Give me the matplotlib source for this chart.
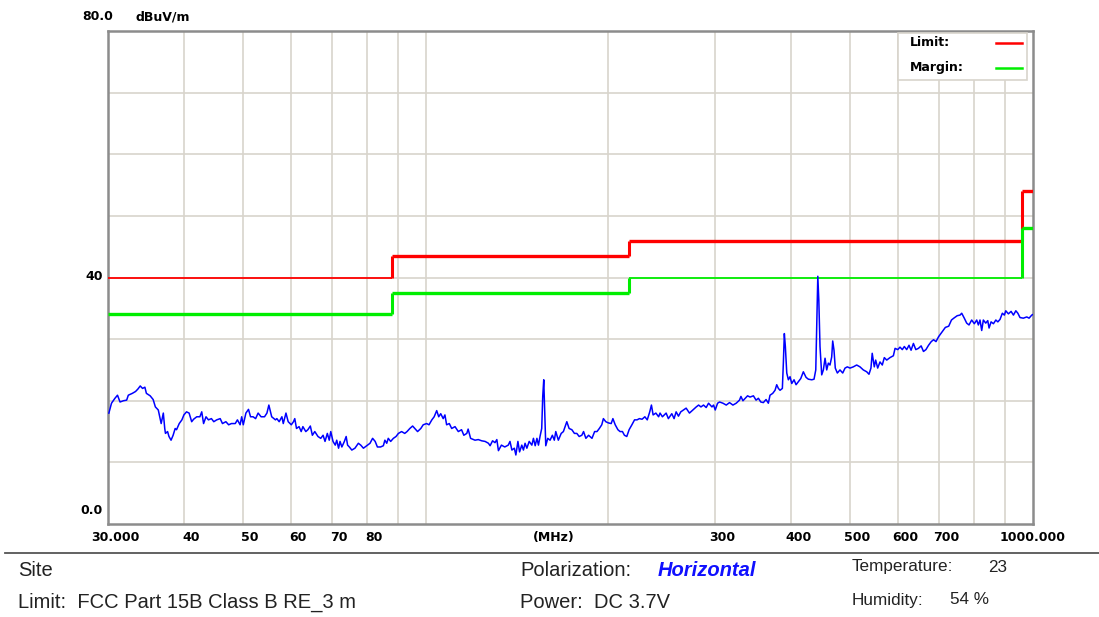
import matplotlib
matplotlib.use("Agg")
import matplotlib.pyplot as plt
from matplotlib.transforms import ScaledTranslation
import numpy as np

# Measured field strength sweep (MHz, dBuV/m)
freq_mhz = [
    30.1, 30.4, 30.8, 31.1, 31.4, 31.8, 32.2, 32.4, 32.9, 33.3, 33.6, 33.9, 34.2, 34.5, 34.7,
    35.2, 35.6, 35.9, 36.3, 36.5, 36.7, 37.0, 37.2, 37.3, 37.6, 37.8, 38.1, 38.4, 38.7, 38.9,
    39.3, 39.7, 40.0, 40.4, 40.8, 41.2, 41.5, 42.0, 42.5, 42.8, 43.1, 43.5, 43.9, 44.4, 44.8,
    45.3, 45.9, 46.3, 46.9, 47.4, 47.9, 48.6, 49.0, 49.5, 49.8, 50.1, 50.6, 51.1, 51.5, 52.0,
    52.5, 53.0, 53.6, 54.3, 54.8, 55.2, 55.8, 56.6, 56.9, 57.4, 58.0, 58.3, 58.9, 59.4, 60.1,
    60.6, 60.9, 61.3, 61.9, 62.4, 62.8, 63.5, 64.0, 64.6, 65.1, 65.7, 66.5, 67.2, 67.8, 68.3,
    68.9, 69.4, 69.8, 70.4, 71.0, 71.4, 71.9, 72.3, 72.8, 73.5, 74.0, 74.4, 74.9, 75.6, 76.5,
    77.5, 78.2, 79.0, 80.0, 81.0, 81.8, 82.6, 83.3, 84.3, 85.2, 85.7, 86.3, 86.8, 87.6, 88.5,
    89.4, 90.2, 91.3, 92.4, 93.2, 94.2, 95.2, 96.0, 97.0, 98.2, 99.1, 100.4, 101.3, 102.4, 103.3,
    104.3, 105.1, 105.9, 106.9, 107.6, 108.3, 109.4, 110.4, 111.8, 113.2, 114.6, 115.6, 116.9, 117.5, 118.6,
    120.6, 122.1, 123.7, 125.3, 126.9, 127.7, 128.9, 130.1, 131.0, 131.8, 133.3, 135.0, 136.8, 137.7, 138.7,
    140.0, 140.8, 141.9, 142.8, 144.0, 144.9, 145.8, 146.8, 148.1, 149.6, 150.5, 151.5, 152.5, 153.4, 154.3,
    155.3, 155.9, 156.5, 157.1, 157.7, 158.9, 160.3, 161.7, 162.9, 163.8, 165.4, 167.2, 168.6, 169.7, 170.8,
    172.3, 174.1, 175.8, 177.4, 179.0, 180.8, 182.0, 183.6, 185.5, 187.9, 189.8, 191.5, 193.2, 195.0, 196.2,
    198.0, 200.0, 202.1, 203.4, 205.2, 207.3, 209.0, 210.9, 212.5, 214.4, 216.3, 218.6, 220.8, 222.9, 224.9,
    227.2, 229.6, 231.7, 233.9, 235.4, 236.9, 239.4, 241.9, 243.2, 245.4, 248.9, 251.0, 254.3, 256.5, 258.5,
    260.8, 263.1, 265.8, 268.5, 271.9, 275.4, 279.0, 281.5, 284.0, 286.8, 289.7, 292.3, 296.1, 297.9, 299.8,
    302.5, 304.8, 308.7, 312.6, 316.5, 320.6, 324.6, 328.7, 330.5, 333.0, 335.9, 338.9, 342.1, 346.5, 350.0,
    353.1, 356.3, 359.8, 363.5, 366.7, 369.0, 372.8, 376.1, 378.5, 380.9, 383.3, 386.7, 388.2, 389.6, 391.1,
    393.2, 395.6, 398.1, 400.7, 404.2, 407.3, 410.9, 414.6, 418.7, 423.0, 426.7, 432.3, 436.0, 438.9, 440.6,
    442.3, 444.0, 446.0, 448.9, 451.7, 454.6, 457.5, 460.3, 463.2, 466.2, 468.0, 470.3, 472.6, 476.3, 481.1,
    486.1, 490.4, 494.7, 499.7, 506.0, 512.5, 519.0, 525.6, 532.4, 537.0, 541.0, 543.6, 547.9, 550.8, 555.0,
    559.9, 564.8, 569.1, 574.4, 581.5, 589.0, 592.8, 598.9, 604.0, 609.3, 614.0, 619.5, 625.0, 629.9, 635.5,
    641.3, 647.7, 654.4, 660.2, 666.4, 673.0, 680.0, 686.0, 692.3, 699.2, 706.5, 712.7, 717.3, 726.5, 734.1,
    740.6, 750.3, 758.3, 763.2, 770.7, 777.7, 784.6, 792.6, 800.6, 807.9, 812.9, 818.0, 823.3, 828.4, 836.0,
    842.4, 846.6, 853.1, 860.7, 868.6, 875.2, 882.5, 890.3, 897.2, 901.9, 910.9, 920.3, 928.5, 937.0, 944.2,
    952.0, 964.0, 976.6, 985.2, 995.3, 1000.0,
]
level_dbuv = [
    18.0, 19.6, 20.4, 20.9, 19.8, 20.0, 20.1, 20.9, 21.2, 21.5, 21.9, 22.4, 22.0, 22.2, 21.2,
    20.8, 20.2, 19.0, 18.5, 17.4, 16.3, 18.0, 15.5, 14.7, 15.0, 14.2, 13.6, 14.4, 15.5, 15.3,
    16.3, 16.9, 17.7, 18.2, 18.0, 16.6, 17.0, 17.4, 17.4, 18.2, 16.3, 17.4, 16.9, 17.1, 16.6,
    16.9, 17.1, 16.3, 16.6, 16.1, 16.3, 16.3, 16.9, 16.1, 17.4, 16.1, 18.0, 18.6, 17.4, 17.4,
    17.1, 18.0, 17.4, 17.4, 18.0, 19.3, 17.4, 16.9, 17.1, 16.6, 17.4, 16.3, 18.0, 16.6, 16.1,
    16.6, 17.1, 15.5, 15.8, 15.0, 15.8, 15.0, 15.3, 15.9, 14.4, 15.0, 14.2, 13.9, 14.4, 13.4,
    14.7, 13.6, 15.0, 13.4, 12.8, 13.6, 12.3, 13.4, 12.5, 13.4, 14.2, 12.8, 12.5, 12.0, 12.3,
    13.1, 12.8, 12.3, 12.7, 13.1, 13.9, 13.4, 12.5, 12.5, 12.7, 13.6, 13.1, 13.9, 13.4, 13.9,
    14.2, 14.7, 15.0, 14.7, 15.0, 15.5, 15.9, 15.5, 15.0, 15.5, 16.1, 16.3, 16.1, 16.9, 17.4,
    18.4, 17.4, 17.9, 17.1, 17.7, 16.1, 16.3, 15.5, 15.8, 15.0, 15.3, 14.4, 14.7, 15.4, 13.9,
    13.6, 13.7, 13.5, 13.4, 13.1, 12.7, 13.5, 13.2, 13.7, 11.9, 12.8, 12.5, 12.8, 13.4, 12.0,
    12.3, 11.2, 13.4, 11.7, 12.8, 12.0, 13.1, 12.3, 13.4, 12.8, 13.9, 12.7, 13.9, 12.8, 14.2,
    15.5, 20.7, 23.4, 18.0, 12.7, 13.9, 13.6, 14.4, 13.6, 15.0, 13.6, 14.7, 15.0, 15.8, 16.6,
    15.5, 15.3, 14.7, 14.7, 14.2, 14.4, 15.0, 13.9, 14.4, 13.9, 15.0, 15.0, 15.5, 16.1, 17.1,
    16.6, 16.4, 16.3, 17.1, 16.1, 15.3, 15.0, 15.0, 14.4, 14.2, 15.3, 16.1, 16.9, 16.9, 17.1,
    17.0, 17.4, 16.9, 18.2, 19.3, 17.7, 18.0, 17.4, 18.0, 17.4, 18.0, 17.1, 17.9, 17.1, 18.2,
    17.5, 18.2, 18.5, 18.8, 18.0, 18.5, 19.0, 19.3, 19.0, 19.3, 18.9, 19.6, 19.0, 19.3, 18.5,
    19.6, 19.8, 19.6, 19.3, 19.7, 19.3, 19.6, 20.1, 20.7, 20.0, 20.4, 20.8, 20.6, 20.8, 20.1,
    20.4, 19.8, 19.7, 20.2, 19.6, 20.9, 21.2, 21.7, 22.6, 22.0, 21.7, 22.0, 26.3, 30.9, 28.8,
    24.5, 23.4, 23.9, 22.8, 23.4, 22.6, 23.1, 23.6, 24.7, 23.8, 23.5, 23.4, 23.5, 25.0, 32.8,
    40.2, 36.3, 28.8, 24.2, 25.0, 26.9, 25.0, 26.1, 25.8, 27.1, 29.7, 28.2, 25.3, 24.5, 25.0,
    24.5, 25.3, 25.5, 25.3, 25.5, 25.8, 25.5, 25.0, 24.7, 24.3, 25.3, 27.7, 25.5, 26.6, 25.3,
    26.3, 25.8, 27.0, 26.6, 27.0, 27.3, 28.5, 28.3, 28.7, 28.3, 28.8, 28.3, 29.0, 28.2, 29.3,
    28.3, 28.5, 28.9, 28.0, 28.3, 29.0, 29.6, 29.9, 29.6, 30.4, 31.0, 31.5, 31.9, 32.1, 33.1,
    33.4, 33.8, 33.9, 34.2, 33.4, 32.6, 32.3, 33.1, 32.5, 33.1, 32.3, 33.1, 31.4, 33.1, 32.6,
    33.0, 31.8, 32.8, 32.5, 33.1, 32.8, 33.2, 34.2, 33.9, 34.6, 34.1, 34.5, 33.9, 34.6, 34.2,
    33.5, 33.4, 33.6, 33.4, 33.9, 34.0,
]

# FCC Part 15B Class B limit (3 m) and the margin line 6 dB below it
limit_edges = [30, 88, 216, 960, 1000]
limit_levels = [40.0, 43.5, 46.0, 54.0]
margin_db = 6.0
margin_levels = [v - margin_db for v in limit_levels]

x_ticks = [30, 40, 50, 60, 70, 80, 158, 300, 400, 500, 600, 700, 1000]
x_tick_labels = ["30.000", "40", "50", "60", "70", "80", "(MHz)",
                 "300", "400", "500", "600", "700", "1000.000"]
x_grid = [40, 50, 60, 70, 80, 90, 100, 200, 300, 400, 500, 600, 700, 800, 900]

GRID = "#d8d4cc"
FRAME = "#8c8c8c"

fig = plt.figure(figsize=(10.99, 6.17), dpi=100)
ax = fig.add_axes([108 / 1099, 1 - 524 / 617, 925 / 1099, 493 / 617])

ax.set_xscale("log")
ax.set_xlim(30, 1000)
ax.set_ylim(0, 80)

for g in x_grid:
    ax.axvline(g, color=GRID, lw=1.2, zorder=0)
for g in range(10, 80, 10):
    ax.axhline(g, color=GRID, lw=1.2, zorder=0)


def draw_steps(levels, widths, color):
    for i, lvl in enumerate(levels):
        ax.plot([limit_edges[i], limit_edges[i + 1]], [lvl, lvl],
                color=color, lw=widths[i], solid_capstyle="butt", zorder=3)
        if i > 0:
            ax.plot([limit_edges[i], limit_edges[i]], [levels[i - 1], lvl],
                    color=color, lw=2.2, solid_capstyle="butt", zorder=3)


draw_steps(limit_levels, [1.3, 2.4, 2.4, 2.4], "#ff0000")
draw_steps(margin_levels, [2.4, 2.4, 1.3, 2.4], "#00ee00")

ax.plot(freq_mhz, level_dbuv, color="#0000ff", lw=1.1, zorder=4)

ax.set_xticks(x_ticks)
ax.set_xticklabels(x_tick_labels)
ax.xaxis.set_minor_locator(matplotlib.ticker.NullLocator())
ax.set_yticks([])
ax.tick_params(axis="x", length=0, pad=5, labelsize=9)
for lbl in ax.get_xticklabels():
    lbl.set_fontweight("bold")
    if lbl.get_text() not in ("1000.000",):
        lbl.set_transform(lbl.get_transform() + ScaledTranslation(7 / 100, 0, fig.dpi_scale_trans))

for side in ("left", "bottom", "top", "right"):
    ax.spines[side].set_color(FRAME)
    ax.spines[side].set_linewidth(1.8)

# y labels sit outside the frame
bold = dict(fontsize=9, fontweight="bold", color="black")
fig.text(113 / 1099, 1 - 17 / 617, "80.0", ha="right", va="center", **bold)
fig.text(135 / 1099, 1 - 17 / 617, "dBuV/m", ha="left", va="center", **bold)
fig.text(103 / 1099, 1 - 277 / 617, "40", ha="right", va="center", **bold)
fig.text(103 / 1099, 1 - 510 / 617, "0.0", ha="right", va="center", **bold)

# legend box
leg = plt.Rectangle((898 / 1099, 1 - 80 / 617), 129 / 1099, 47 / 617,
                    transform=fig.transFigure, facecolor="white",
                    edgecolor=GRID, lw=1.2, zorder=5)
fig.add_artist(leg)
fig.text(910 / 1099, 1 - 43 / 617, "Limit:", ha="left", va="center", zorder=6, **bold)
fig.text(910 / 1099, 1 - 68 / 617, "Margin:", ha="left", va="center", zorder=6, **bold)
fig.add_artist(plt.Line2D([996 / 1099, 1022 / 1099], [1 - 43 / 617] * 2,
                          transform=fig.transFigure, color="#ff0000", lw=1.8, zorder=6))
fig.add_artist(plt.Line2D([996 / 1099, 1022 / 1099], [1 - 68 / 617] * 2,
                          transform=fig.transFigure, color="#00ee00", lw=1.8, zorder=6))

# info panel below the plot
fig.add_artist(plt.Line2D([5 / 1099, 1.0], [1 - 553 / 617] * 2,
                          transform=fig.transFigure, color="#555555", lw=1.3))
info = dict(fontsize=14.5, family="Liberation Sans", color="#222222", va="center", ha="left")
small = dict(fontsize=12.3, family="Liberation Sans", color="#222222", va="center", ha="left")
fig.text(18 / 1099, 1 - 570 / 617, "Site", **info)
fig.text(18 / 1099, 1 - 602 / 617, "Limit:  FCC Part 15B Class B RE_3 m", **info)
fig.text(520 / 1099, 1 - 570 / 617, "Polarization:", **info)
fig.text(658 / 1099, 1 - 570 / 617, "Horizontal", fontsize=14.5, family="Liberation Sans",
         color="#1010ff", fontweight="bold", style="italic", va="center", ha="left")
fig.text(520 / 1099, 1 - 602 / 617, "Power:  DC 3.7V", **info)
fig.text(852 / 1099, 1 - 567 / 617, "Temperature:", **small)
fig.text(988 / 1099, 1 - 567 / 617, "23", **small)
fig.text(852 / 1099, 1 - 600 / 617, "Humidity:", **small)
fig.text(950 / 1099, 1 - 600 / 617, "54 %", **small)

fig.savefig("out.png", dpi=100)
